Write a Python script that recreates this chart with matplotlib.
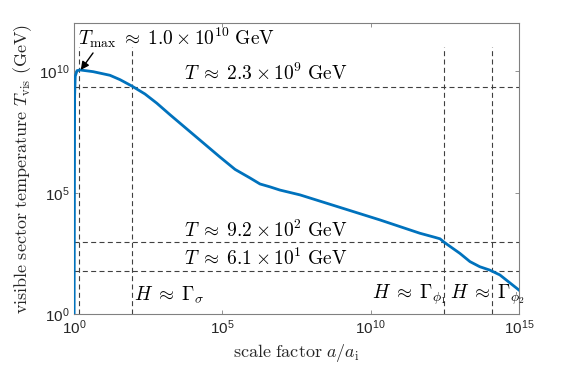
import numpy as np
import matplotlib
matplotlib.use("Agg")
import matplotlib.pyplot as plt

# curve: log10 of scale factor a/a_i and of T_vis (GeV)
log_a = [0.0, 0.02, 0.04, 0.1, 0.2, 0.64, 1.21, 1.55, 1.945, 2.39, 2.79, 3.24,
         4.92, 5.43, 5.93, 6.27, 6.61, 6.94, 7.62, 10.31, 11.66, 12.17, 12.34,
         12.5, 13.01, 13.35, 13.68, 14.02, 14.36, 15.0]
log_T = [-1.0, 9.0, 9.8, 10.03, 10.06, 9.99, 9.84, 9.66, 9.40, 9.07, 8.69, 8.21,
         6.47, 5.96, 5.61, 5.36, 5.24, 5.11, 4.91, 3.88, 3.33, 3.16, 3.10,
         2.94, 2.50, 2.16, 1.95, 1.81, 1.61, 0.99]

T_levels = [2.3e9, 9.2e2, 6.1e1]
T_labels = [r"$T \;\approx\; 2.3 \times 10^{9}\ \mathrm{GeV}$",
            r"$T \;\approx\; 9.2 \times 10^{2}\ \mathrm{GeV}$",
            r"$T \;\approx\; 6.1 \times 10^{1}\ \mathrm{GeV}$"]
a_events = [1.47, 88, 3.0e12, 1.2e14]
H_labels = [r"$H \;\approx\; \Gamma_{\sigma}$", r"$H \;\approx\; \Gamma_{\phi_1}$",
            r"$H \;\approx\; \Gamma_{\phi_2}$"]

plt.rcParams["mathtext.fontset"] = "cm"
plt.rcParams["font.family"] = ["Liberation Sans", "DejaVu Sans"]

fig = plt.figure(figsize=(5.74, 3.69), dpi=100)
ax = fig.add_axes([0.129, 0.149, 0.775, 0.789])

a = 10 ** np.array(log_a)
T = 10 ** np.array(log_T)

# reference lines
for Tl in T_levels:
    ax.plot([1, 1e15], [Tl, Tl], color="0.25", lw=0.8, dashes=(4.5, 3), zorder=1)
for ae in a_events:
    ax.plot([ae, ae], [1, 1e11], color="0.25", lw=0.8, dashes=(4.5, 3), zorder=1)

ax.plot(a, T, color="#0072BD", lw=2.0, zorder=3, solid_joinstyle="round")

ax.set_xscale("log")
ax.set_yscale("log")
ax.set_xlim(1, 1e15)
ax.set_ylim(1, 1e12)
ax.set_xticks([1, 1e5, 1e10, 1e15])
ax.set_yticks([1, 1e5, 1e10])
ax.minorticks_off()
ax.tick_params(direction="in", top=True, right=True, length=3, width=0.6,
               colors="0.5", labelcolor="0.15", labelsize=11)
for s in ax.spines.values():
    s.set_color("0.5")
    s.set_linewidth(0.8)

# annotations
ax.text(10 ** 0.12, 10 ** 11.38, r"$T_{\max} \;\approx\; 1.0 \times 10^{10}\ \mathrm{GeV}$",
        fontsize=14, ha="left", va="center")
ax.annotate("", xy=(10 ** 0.226, 10 ** 10.06), xytext=(10 ** 0.64, 10 ** 10.76),
            arrowprops=dict(arrowstyle="-|>", color="black", lw=1.0,
                            mutation_scale=12, shrinkA=0, shrinkB=0))
T_text_y = [10 ** 9.9, 10 ** 3.46, 10 ** 2.31]
for lab, ty in zip(T_labels, T_text_y):
    ax.text(10 ** 6.47, ty, lab, fontsize=14, ha="center", va="center")

H_text_x = [10 ** 2.02, 10 ** 10.03, 10 ** 12.67]
for lab, tx in zip(H_labels, H_text_x):
    ax.text(tx, 10 ** 0.78, lab, fontsize=14, ha="left", va="center")

ax.set_xlabel(r"$\mathrm{scale\ factor}\ a/a_{\mathrm{i}}$", fontsize=13,
              color="0.15", labelpad=3)
ax.set_ylabel(r"$\mathrm{visible\ sector\ temperature}\ T_{\mathrm{vis}}\ \mathrm{(GeV)}$",
              fontsize=13, color="0.15", labelpad=3)

fig.savefig("out.png", dpi=100)
